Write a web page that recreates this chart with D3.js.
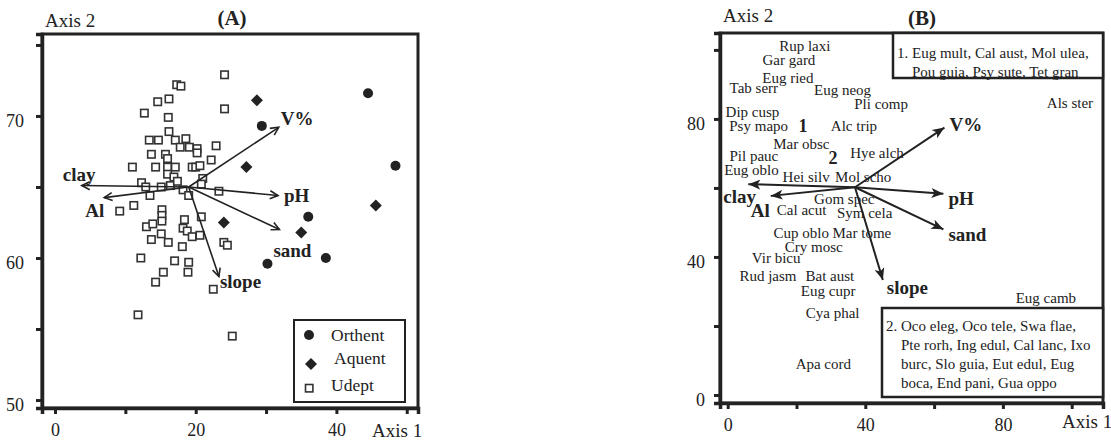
<!DOCTYPE html>
<html>
<head>
<meta charset="utf-8">
<script src="https://cdn.jsdelivr.net/npm/d3@7"></script>
<style>
body{margin:0;background:#fff}
text{font-family:"Liberation Serif","Times New Roman",serif;fill:#222}
</style>
</head>
<body>
<svg width="1111" height="441"></svg>
<script>
// ---- panel A : sample scores (axis 1, axis 2)
var orthent=[[44.5,71.6],[48.4,66.5],[29.4,69.3],[36.0,62.9],[38.5,60.0],[30.2,59.6]];
var aquent=[[28.7,71.1],[27.2,66.4],[45.6,63.7],[24.0,62.5],[35.0,61.8]];
var udept=[[24.1,72.9],[17.3,72.2],[17.9,72.1],[16.2,71.2],[14.6,71.0],[12.7,70.2],[16.1,69.9],[24.1,70.5],
  [16.2,68.9],[13.4,68.3],[14.7,68.3],[17.1,68.3],[18.6,68.4],[17.8,67.8],[19.1,67.8],[20.2,67.7],[20.2,67.4],
  [22.9,67.9],[13.7,67.3],[15.7,67.3],[16.0,67.0],[11.0,66.4],[14.3,66.4],[16.0,66.4],[17.1,66.4],[19.5,66.4],
  [20.0,66.4],[20.6,66.5],[22.2,66.9],[16.0,65.9],[16.9,65.7],[21.0,65.6],[20.8,65.2],[12.3,65.3],[12.9,65.0],
  [15.1,65.0],[16.4,65.1],[17.4,65.4],[18.2,64.8],[13.5,64.4],[19.0,64.4],[23.3,64.7],[11.2,63.7],[9.2,63.3],
  [15.2,63.4],[15.2,63.0],[15.2,62.6],[13.0,62.2],[13.9,62.4],[13.7,61.3],[15.1,61.7],[16.1,61.1],[18.4,62.7],
  [18.2,62.1],[18.8,61.9],[19.5,61.5],[20.6,61.6],[20.8,62.9],[18.1,60.8],[24.0,61.1],[24.5,60.9],[12.2,60.0],
  [17.0,59.8],[19.0,59.7],[15.4,59.0],[18.9,59.0],[14.3,58.3],[22.5,57.8],[11.8,56.0],[25.2,54.5]];
var soilTypes=["Orthent","Aquent","Udept"];

// ---- environmental vectors
var envNames=["clay","Al","V%","pH","sand","slope"];
var originA=[19.0,65.0];
var envA=[[3.8,65.1],[7.0,64.25],[31.8,69.2],[31.7,64.4],[31.9,62.0],[23.3,58.7]];
var originB=[37.0,60.2];
var envB=[[6.0,61.1],[12.5,57.7],[63.0,77.5],[62.7,58.3],[62.7,48.0],[45.1,33.3]];

// ---- panel B : species scores
var species=["Rup laxi","Gar gard","Eug ried","Tab serr","Eug neog","Pli comp","Dip cusp","Psy mapo","Alc trip",
  "Mar obsc","Pil pauc","Hye alch","Eug oblo","Hei silv","Mol scho","Gom spec","Cal acut","Sym cela","Cup oblo",
  "Mar tome","Cry mosc","Vir bicu","Rud jasm","Bat aust","Eug cupr","Cya phal","Apa cord","Als ster","Eug camb"];
var speciesX=[22.4,17.8,17.5,7.6,33.4,44.6,7.2,9.0,36.7,21.4,7.6,43.4,6.9,22.8,39.4,33.9,21.5,39.8,21.4,
  39.0,25.0,14.1,11.7,29.7,29.2,30.5,27.8,99.5,92.5];
var speciesY=[101.3,97.1,91.8,88.9,88.4,84.4,82.1,78.0,78.0,72.7,69.4,70.1,65.2,63.3,63.3,56.8,53.6,52.7,47.1,
  47.1,43.1,39.9,34.6,34.6,30.2,23.9,9.1,84.6,28.3];
var groups=["1","2"];
var groupX=[21.9,30.6];
var groupY=[78.0,68.8];
var group1=["1. Eug mult, Cal aust, Mol ulea,","Pou guia, Psy sute, Tet gran"];
var group2=["2. Oco eleg, Oco tele, Swa flae,","Pte rorh, Ing edul, Cal lanc, Ixo","burc, Slo guia, Eut edul, Eug","boca, End pani, Gua oppo"];

// ---- ticks
var xTicksA=[0,10,20,30,40,50], xLabA=[0,20,40];
var yTicksA=[50,55,60,65,70,75], yLabA=[50,60,70];
var xTicksB=[0,20,40,60,80,100], xLabB=[0,40,80];
var yTicksB=[0,20,40,60,80,100], yLabB=[0,40,80];

var svg=d3.select("svg");
var ink="#222";

var defs=svg.append("defs");
defs.append("marker").attr("id","openHead").attr("markerUnits","userSpaceOnUse")
  .attr("viewBox","-10 -6 12 12").attr("refX",0).attr("refY",0)
  .attr("markerWidth",12).attr("markerHeight",12).attr("orient","auto")
  .append("path").attr("d","M-8,-4L0,0L-8,4").attr("fill","none").attr("stroke",ink).attr("stroke-width",1.6);
defs.append("marker").attr("id","solidHead").attr("markerUnits","userSpaceOnUse")
  .attr("viewBox","-12 -6 13 12").attr("refX",0).attr("refY",0)
  .attr("markerWidth",13).attr("markerHeight",12).attr("orient","auto")
  .append("path").attr("d","M-12,-5L0,0L-12,5L-9,0Z").attr("fill",ink);

function drawFrame(g,x,y,xTicks,xLab,yTicks,yLab,pad){
  var x0=x.range()[0],x1=x.range()[1],y0=y.range()[0],y1=y.range()[1];
  g.append("rect").attr("x",x0).attr("y",y1).attr("width",x1-x0).attr("height",y0-y1)
    .attr("fill","none").attr("stroke",ink).attr("stroke-width",3);
  var xa=g.append("g").attr("transform","translate(0,"+y0+")")
    .call(d3.axisBottom(x).tickValues(xTicks).tickSize(6).tickPadding(9)
      .tickFormat(function(d){return xLab.indexOf(d)>=0?d:"";}));
  var ya=g.append("g").attr("transform","translate("+x0+",0)")
    .call(d3.axisLeft(y).tickValues(yTicks).tickSize(6).tickPadding(pad)
      .tickFormat(function(d){return yLab.indexOf(d)>=0?d:"";}));
  [xa,ya].forEach(function(a){
    a.select(".domain").attr("stroke",ink).attr("stroke-width",3.5);
    a.selectAll(".tick line").attr("stroke",ink).attr("stroke-width",3);
    a.selectAll(".tick text").attr("font-size",18).attr("font-family","Liberation Serif").attr("fill",ink);
  });
  ya.selectAll(".tick text").attr("dy","0.6em");
}

// ================= panel A
var xA=d3.scaleLinear().domain([-1.85,51.6]).range([42,418]);
var yA=d3.scaleLinear().domain([49.44,75.77]).range([408,34]);
var gA=svg.append("g");
drawFrame(gA,xA,yA,xTicksA,xLabA,yTicksA,yLabA,12);

gA.append("text").attr("x",45).attr("y",27).attr("font-size",19).text("Axis 2");
gA.append("text").attr("x",372).attr("y",437).attr("font-size",19).text("Axis 1");
gA.append("text").attr("x",232).attr("y",25).attr("text-anchor","middle").attr("font-size",21)
  .attr("font-weight","bold").text("(A)");

var diamond="M0,-6L6,0L0,6L-6,0Z";
gA.selectAll(".ud").data(udept).enter().append("rect")
  .attr("x",function(d){return xA(d[0])-3.7;}).attr("y",function(d){return yA(d[1])-3.7;})
  .attr("width",7.4).attr("height",7.4).attr("fill","#fff").attr("stroke","#333").attr("stroke-width",1.6);

// vectors A
var labA={"clay":[-19,-5],"Al":[-19,19],"V%":[2,-2],"pH":[6,6],"sand":[-6,27],"slope":[1,12]};
envNames.forEach(function(n,i){
  gA.append("line").attr("x1",xA(originA[0])).attr("y1",yA(originA[1]))
    .attr("x2",xA(envA[i][0])).attr("y2",yA(envA[i][1]))
    .attr("stroke",ink).attr("stroke-width",1.6).attr("marker-end","url(#openHead)");
  gA.append("text").attr("x",xA(envA[i][0])+labA[n][0]).attr("y",yA(envA[i][1])+labA[n][1])
    .attr("font-size",19).attr("font-weight","bold").text(n);
});

gA.selectAll(".or").data(orthent).enter().append("circle")
  .attr("cx",function(d){return xA(d[0]);}).attr("cy",function(d){return yA(d[1]);})
  .attr("r",5).attr("fill",ink);
gA.selectAll(".aq").data(aquent).enter().append("path").attr("d",diamond)
  .attr("transform",function(d){return "translate("+xA(d[0])+","+yA(d[1])+")";}).attr("fill",ink);

// legend A
var leg=gA.append("g");
leg.append("rect").attr("x",294).attr("y",320).attr("width",111).attr("height",82)
  .attr("fill","#fff").attr("stroke",ink).attr("stroke-width",2);
leg.append("circle").attr("cx",309).attr("cy",335).attr("r",5).attr("fill",ink);
leg.append("path").attr("d",diamond).attr("transform","translate(311,364)").attr("fill",ink);
leg.append("rect").attr("x",305.5).attr("y",384.5).attr("width",7.4).attr("height",7.4)
  .attr("fill","#fff").attr("stroke","#333").attr("stroke-width",1.6);
[[331,341],[334,364],[331,391]].forEach(function(p,i){
  leg.append("text").attr("x",p[0]).attr("y",p[1]).attr("font-size",17.5).text(soilTypes[i]);
});

// ================= panel B
var xB=d3.scaleLinear().domain([-2.24,109.1]).range([720,1103]);
var yB=d3.scaleLinear().domain([-2.32,104.9]).range([403,33]);
var gB=svg.append("g");
drawFrame(gB,xB,yB,xTicksB,xLabB,yTicksB,yLabB,9);

gB.append("text").attr("x",723).attr("y",22).attr("font-size",19).text("Axis 2");
gB.append("text").attr("x",1062).attr("y",428).attr("font-size",19).text("Axis 1");
gB.append("text").attr("x",922).attr("y",25).attr("text-anchor","middle").attr("font-size",21)
  .attr("font-weight","bold").text("(B)");

gB.selectAll(".sp").data(species).enter().append("text")
  .attr("x",function(d,i){return xB(speciesX[i]);}).attr("y",function(d,i){return yB(speciesY[i]);})
  .attr("dy","0.35em").attr("text-anchor","middle").attr("font-size",15).attr("fill","#333")
  .text(function(d){return d;});
gB.selectAll(".gr").data(groups).enter().append("text")
  .attr("x",function(d,i){return xB(groupX[i]);}).attr("y",function(d,i){return yB(groupY[i]);})
  .attr("dy","0.35em").attr("text-anchor","middle").attr("font-size",18).attr("font-weight","bold")
  .text(function(d){return d;});

var labB={"clay":[-25,19],"Al":[-20,21],"V%":[5,3],"pH":[5,11],"sand":[5,12],"slope":[4,14]};
envNames.forEach(function(n,i){
  gB.append("line").attr("x1",xB(originB[0])).attr("y1",yB(originB[1]))
    .attr("x2",xB(envB[i][0])).attr("y2",yB(envB[i][1]))
    .attr("stroke",ink).attr("stroke-width",2).attr("marker-end","url(#solidHead)");
  gB.append("text").attr("x",xB(envB[i][0])+labB[n][0]).attr("y",yB(envB[i][1])+labB[n][1])
    .attr("font-size",19).attr("font-weight","bold").text(n);
});

// group boxes
gB.append("rect").attr("x",893).attr("y",33).attr("width",210).attr("height",45)
  .attr("fill","#fff").attr("stroke",ink).attr("stroke-width",2.5);
gB.append("text").attr("x",897).attr("y",58).attr("font-size",15).text(group1[0]);
gB.append("text").attr("x",912).attr("y",77).attr("font-size",15).text(group1[1]);

gB.append("rect").attr("x",882).attr("y",308).attr("width",221).attr("height",89)
  .attr("fill","#fff").attr("stroke",ink).attr("stroke-width",2.5);
group2.forEach(function(t,i){
  gB.append("text").attr("x",i===0?886:901).attr("y",331+i*19).attr("font-size",15).text(t);
});
</script>
</body>
</html>
